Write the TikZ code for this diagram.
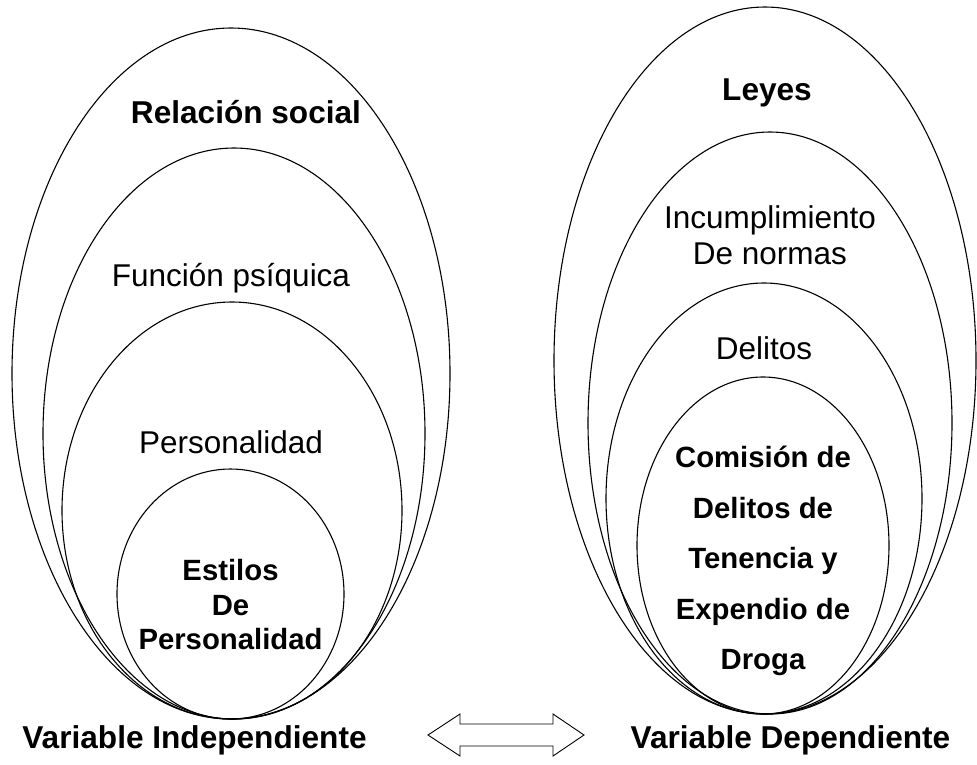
\documentclass[tikz,border=0pt]{standalone}
\usepackage{fontspec}
\setmainfont{Liberation Sans}
\usetikzlibrary{calc}

\begin{document}
\begin{tikzpicture}[x=1pt, y=-1pt, line width=1.1pt,
        plain/.style={font=\fontsize{31.5}{36}\selectfont, align=center},
        heavy/.style={font=\fontsize{31.6}{36}\selectfont\bfseries, align=center},
        core/.style={font=\fontsize{29.3}{34.5}\selectfont\bfseries, align=center}]
        \useasboundingbox (0,0) rectangle (977,764);

        % independiente
        \draw (231,373.5) ellipse [x radius=219pt, y radius=345.5pt];
        \draw (234,433.5) ellipse [x radius=191pt, y radius=285.5pt];
        \draw (232,510.5) ellipse [x radius=170pt, y radius=208.5pt];
        \draw (230.5,594) ellipse [x radius=113.5pt, y radius=125pt];

        \node[heavy] (social) at (246,112) {Relación social};
        \node[plain] (psiquica) at (231,278) {Función psíquica};
        \node[plain] (personalidad) at (231,442) {Personalidad};
        \node[core] (estilos) at (230.5,605) {Estilos\\De\\Personalidad};

        % dependiente
        \draw (765,360.5) ellipse [x radius=211pt, y radius=353.5pt];
        \draw (770,423) ellipse [x radius=182pt, y radius=291pt];
        \draw (764,498.5) ellipse [x radius=158pt, y radius=215.5pt];
        \draw (763,545.5) ellipse [x radius=126pt, y radius=168.5pt];

        \node[heavy] (leyes) at (767,93) {Leyes};
        \node[plain] (normas) at (770,235) {Incumplimiento\\De normas};
        \node[plain] (delitos) at (764,348) {Delitos};
        \node[core, font=\fontsize{29.3}{50.5}\selectfont\bfseries] (droga) at (763,561)
            {Comisión de\\Delitos de\\Tenencia y\\Expendio de\\Droga};

        \node[heavy] (indep) at (194.5,740) {Variable Independiente};
        \node[heavy] (dep) at (790.5,740) {Variable Dependiente};

        % flecha doble
        \coordinate (L) at (428,735);
        \coordinate (R) at (584,735);
        \draw[line width=0.9pt] (L) -- ++(32,-21) -- ++(0,10) -- ($(R)+(-31,-11)$)
            -- ++(0,-10) -- (R) -- ++(-31,21) -- ++(0,-10) -- ($(L)+(32,11)$)
            -- ++(0,10) -- cycle;
    \end{tikzpicture}
\end{document}
